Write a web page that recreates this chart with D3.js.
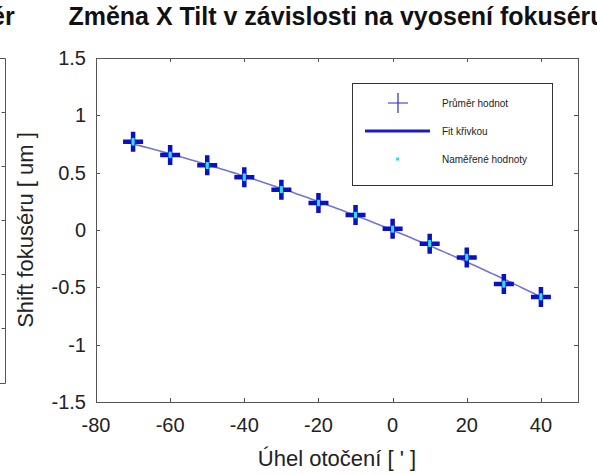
<!DOCTYPE html>
<html>
<head>
<meta charset="utf-8">
<script src="https://cdn.jsdelivr.net/npm/d3@7"></script>
<style>
  html, body { margin: 0; padding: 0; background: #fff; }
  svg { display: block; font-family: "Liberation Sans", Arial, sans-serif; }
</style>
</head>
<body>
<svg id="chart" width="597" height="474"></svg>
<script>
// Rotation angle [']
const angles = [-70, -60, -50, -40, -30, -20, -10, 0, 10, 20, 30, 40];
// Mean focuser shift per angle [um]
const means = [0.77, 0.655, 0.565, 0.46, 0.35, 0.235, 0.13, 0.01, -0.12, -0.24, -0.47, -0.585];
// Individual measurements per angle [um]
const measured = [
  [0.75, 0.77, 0.79],
  [0.64, 0.655, 0.67],
  [0.545, 0.565, 0.58],
  [0.44, 0.46, 0.48],
  [0.335, 0.35, 0.37],
  [0.22, 0.235, 0.25],
  [0.115, 0.13, 0.145],
  [-0.01, 0.01, 0.025],
  [-0.135, -0.12, -0.1],
  [-0.255, -0.24, -0.22],
  [-0.49, -0.47, -0.455],
  [-0.6, -0.585, -0.565]
];
const xTicks = [-80, -60, -40, -20, 0, 20, 40];
const yTicks = [-1.5, -1, -0.5, 0, 0.5, 1, 1.5];
const legendLabels = ["Průměr hodnot", "Fit křivkou", "Naměřené hodnoty"];

const svg = d3.select("#chart");
const L = 96, R = 578, T = 58, B = 402;
const x = d3.scaleLinear().domain([-80, 50]).range([L, R]);
const y = d3.scaleLinear().domain([-1.5, 1.5]).range([B, T]);
const frameColor = "#555";
const textColor = "#222";

// Quadratic least-squares fit through the mean values
function polyfit2(xs, ys) {
  let s = [0, 0, 0, 0, 0], t = [0, 0, 0];
  xs.forEach((xv, i) => {
    for (let k = 0; k < 5; k++) s[k] += Math.pow(xv, k);
    for (let k = 0; k < 3; k++) t[k] += ys[i] * Math.pow(xv, k);
  });
  const M = [[s[0], s[1], s[2], t[0]], [s[1], s[2], s[3], t[1]], [s[2], s[3], s[4], t[2]]];
  for (let i = 0; i < 3; i++) {
    for (let j = i + 1; j < 3; j++) {
      const f = M[j][i] / M[i][i];
      for (let k = i; k < 4; k++) M[j][k] -= f * M[i][k];
    }
  }
  const c = [0, 0, 0];
  for (let i = 2; i >= 0; i--) {
    let v = M[i][3];
    for (let k = i + 1; k < 3; k++) v -= M[i][k] * c[k];
    c[i] = v / M[i][i];
  }
  return c;
}
const coef = polyfit2(angles, means);
const fitX = d3.range(angles[0], angles[angles.length - 1] + 0.01, 1);
const fitPts = fitX.map(a => [a, coef[0] + coef[1] * a + coef[2] * a * a]);

// Neighbouring subplot edge (clipped at the figure border)
svg.append("clipPath").attr("id", "leftclip")
  .append("rect").attr("x", 0).attr("y", 0).attr("width", 16).attr("height", 474);
const lp = svg.append("g").attr("clip-path", "url(#leftclip)");
lp.append("text").attr("x", 30).attr("y", 25).attr("text-anchor", "end")
  .attr("font-size", 25).attr("font-weight", "bold").attr("fill", "#111").text("fokuséru");
lp.append("path").attr("d", "M-10,58.5H5.5V383.5H-10").attr("fill", "none")
  .attr("stroke", frameColor).attr("stroke-width", 1);
[112, 166, 220, 274, 328].forEach(ty => {
  lp.append("line").attr("x1", 1.5).attr("x2", 5.5).attr("y1", ty + 0.5).attr("y2", ty + 0.5)
    .attr("stroke", frameColor);
});

// Title
svg.append("text").attr("x", (L + R) / 2).attr("y", 25).attr("text-anchor", "middle")
  .attr("font-size", 25).attr("font-weight", "bold").attr("fill", "#111")
  .text("Změna X Tilt v závislosti na vyosení fokuséru");

// Frame and inward ticks
const g = svg.append("g");
g.append("rect").attr("x", L + 0.5).attr("y", T + 0.5).attr("width", R - L).attr("height", B - T)
  .attr("fill", "none").attr("stroke", frameColor).attr("stroke-width", 1);
const tl = 4;
xTicks.forEach(v => {
  const px = Math.round(x(v)) + 0.5;
  g.append("line").attr("x1", px).attr("x2", px).attr("y1", B).attr("y2", B - tl).attr("stroke", frameColor);
  g.append("line").attr("x1", px).attr("x2", px).attr("y1", T).attr("y2", T + tl).attr("stroke", frameColor);
  g.append("text").attr("x", x(v)).attr("y", 432).attr("text-anchor", "middle")
    .attr("font-size", 20).attr("fill", textColor).text(v);
});
yTicks.forEach(v => {
  const py = Math.round(y(v)) + 0.5;
  g.append("line").attr("x1", L).attr("x2", L + tl).attr("y1", py).attr("y2", py).attr("stroke", frameColor);
  g.append("line").attr("x1", R).attr("x2", R - tl).attr("y1", py).attr("y2", py).attr("stroke", frameColor);
  g.append("text").attr("x", 86).attr("y", y(v)).attr("dy", "0.35em").attr("text-anchor", "end")
    .attr("font-size", 20).attr("fill", textColor).text(v);
});

// Axis labels
svg.append("text").attr("x", (L + R) / 2).attr("y", 466).attr("text-anchor", "middle")
  .attr("font-size", 22).attr("fill", textColor).text("Úhel otočení [ ' ]");
svg.append("text").attr("transform", `translate(33,${(T + B) / 2}) rotate(-90)`)
  .attr("text-anchor", "middle").attr("font-size", 22).attr("fill", textColor)
  .text("Shift fokuséru [ um ]");

// Fit curve
g.append("path").datum(fitPts)
  .attr("d", d3.line().x(d => x(d[0])).y(d => y(d[1])))
  .attr("fill", "none").attr("stroke", "#7373d6").attr("stroke-width", 1.6);

// Mean markers (thick plus)
const ms = 10;
angles.forEach((a, i) => {
  const cx = x(a), cy = y(means[i]);
  g.append("path").attr("d", `M${cx - ms},${cy}H${cx + ms}M${cx},${cy - ms}V${cy + ms}`)
    .attr("stroke", "#0a10c6").attr("stroke-width", 4.5).attr("fill", "none");
});

// Individual measurements
angles.forEach((a, i) => {
  measured[i].forEach(v => {
    g.append("rect").attr("x", x(a) - 1.5).attr("y", y(v) - 1.5).attr("width", 3).attr("height", 3)
      .attr("fill", "#2fe0e8");
  });
});

// Legend
const lg = svg.append("g");
lg.append("rect").attr("x", 352.5).attr("y", 83.5).attr("width", 200).attr("height", 102)
  .attr("fill", "#fff").attr("stroke", "#333").attr("stroke-width", 1);
const rows = [103, 131, 159];
lg.append("path").attr("d", `M388,${rows[0]}H408M398,${rows[0] - 10}V${rows[0] + 10}`)
  .attr("stroke", "#2a2acb").attr("stroke-width", 1.2).attr("fill", "none");
lg.append("line").attr("x1", 365).attr("x2", 430).attr("y1", rows[1]).attr("y2", rows[1])
  .attr("stroke", "#1c1cc4").attr("stroke-width", 3);
lg.append("rect").attr("x", 396).attr("y", rows[2] - 1.5).attr("width", 3).attr("height", 3).attr("fill", "#2fe0e8");
legendLabels.forEach((t, i) => {
  lg.append("text").attr("x", 442).attr("y", rows[i]).attr("dy", "0.35em")
    .attr("font-size", 10).attr("fill", textColor).text(t);
});
</script>
</body>
</html>
